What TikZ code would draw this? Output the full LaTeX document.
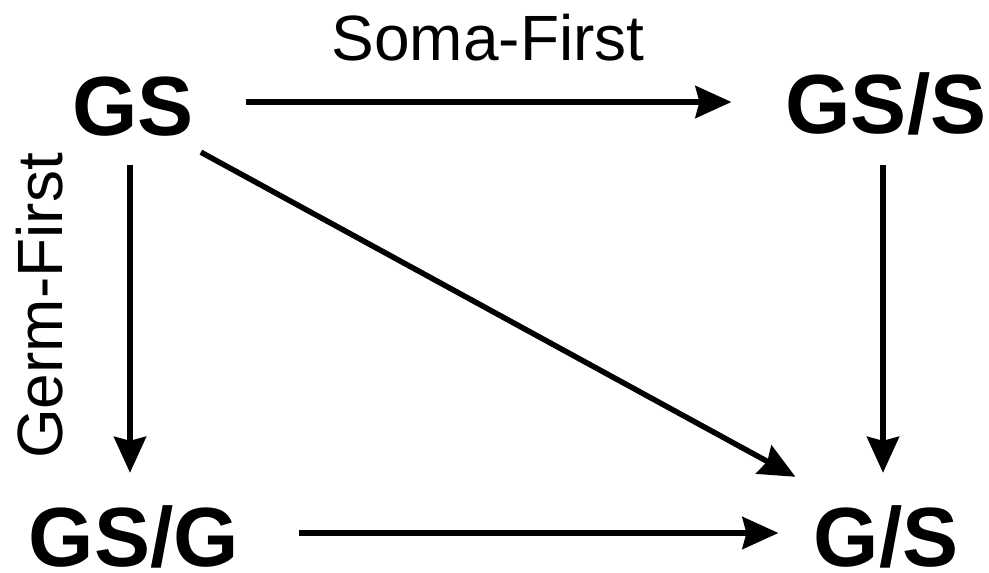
\documentclass[tikz,border=0pt]{standalone}
\usepackage{fontspec}
\setmainfont{Liberation Sans}
\usetikzlibrary{arrows.meta}
\begin{document}
\begin{tikzpicture}[x=1pt,y=-1pt,
  state/.style={font=\fontsize{84}{84}\selectfont\bfseries, inner sep=0pt, anchor=base, text height=66pt, text depth=0pt},
  lab/.style={font=\fontsize{64}{64}\selectfont, inner sep=0pt, anchor=base},
  arr/.style={line width=5.5pt, -{Stealth[length=36pt,width=32pt,inset=4pt]}}]
\useasboundingbox (0,0) rectangle (989,573);
\node[state] (gs) at (133,135) {GS};
\node[state] (gss) at (886,133) {GS/S};
\node[state] (gsg) at (134,566) {GS/G};
\node[state] (g2s) at (886,566) {G/S};
\node[lab] (soma) at (488,60) {Soma-First};
\node[lab, rotate=90] (germ) at (62,306) {Germ-First};
\draw[arr, shorten <=52pt, shorten >=54pt] (gs.east) -- (gs.east -| gss.west);
\draw[arr, shorten <=30pt, shorten >=27pt] ([xshift=-3]gs.south) -- ([xshift=-3]gs.south |- gsg.north);
\draw[arr, shorten <=32pt, shorten >=27pt] ([xshift=-3]gss.south) -- ([xshift=-3]gss.south |- g2s.north);
\draw[arr, shorten <=60pt, shorten >=35pt] (gsg.east) -- (gsg.east -| g2s.west);
\draw[arr] ([shift={(7,17)}]gs.south east) -- ([shift={(-18,-23)}]g2s.north west);
\end{tikzpicture}
\end{document}
